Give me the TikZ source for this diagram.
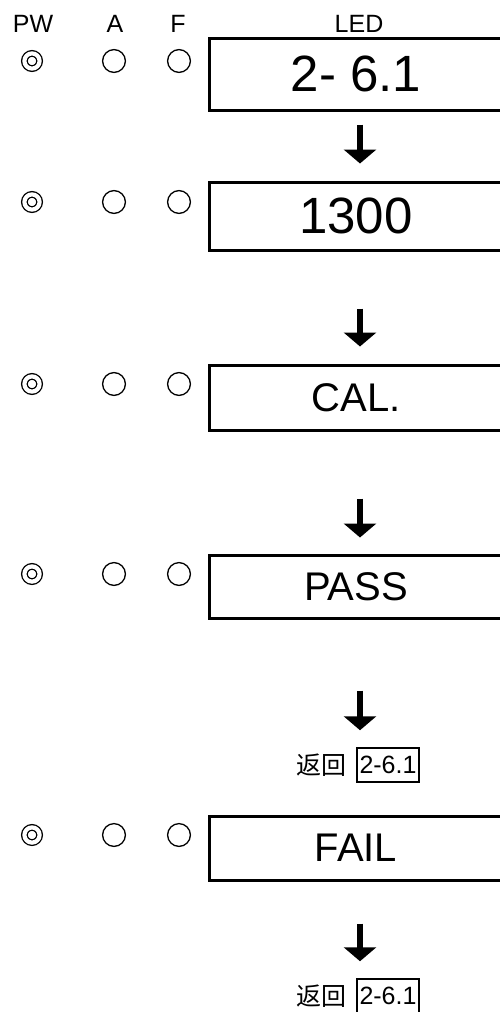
\documentclass[tikz,border=0pt]{standalone}
\usepackage{fontspec}
\setmainfont{Liberation Sans}
\newfontfamily\cjk{Noto Sans CJK SC}
\usetikzlibrary{arrows.meta,positioning}

\begin{document}
\begin{tikzpicture}[
    x=1pt, y=-1pt,
    header/.style={font=\fontsize{25}{30}\selectfont, inner sep=0pt},
    ledbox/.style={rectangle, draw, line width=3pt, minimum width=294pt, inner sep=0pt},
    bigtext/.style={font=\fontsize{51}{60}\selectfont},
    smalltext/.style={font=\fontsize{40}{47}\selectfont},
    lamp/.style={circle, draw, line width=1.3pt, minimum size=22.8pt, inner sep=0pt},
    pwlamp/.style={circle, draw, line width=1.3pt, double, double distance=4.2pt, minimum size=15.2pt, inner sep=0pt},
    flow/.style={line width=6pt, -{Triangle[width=32pt,length=14pt]}},
    backtext/.style={font=\cjk\fontsize{25}{30}\selectfont, inner sep=0pt},
    backbox/.style={draw, line width=1.8pt, font=\fontsize{25}{30}\selectfont, inner xsep=2.5pt, inner ysep=8pt}
  ]
  \useasboundingbox (0,0) rectangle (500,1012);
  \clip (0,0) rectangle (500,1012);
  \node[header] (pwhead) at (33,23.5) {PW};
  \node[header] (ahead) at (115,23.5) {A};
  \node[header] (fhead) at (178,23.5) {F};
  \node[header] (ledhead) at (359,23.5) {LED};
  \node[pwlamp] (pw1) at (32,61) {};
  \node[lamp] (a1) at (114,61) {};
  \node[lamp] (f1) at (179,61) {};
  \node[ledbox, bigtext, minimum height=72pt] (led1) at (356,74) {2- 6.1};
  \node[pwlamp] (pw2) at (32,202) {};
  \node[lamp] (a2) at (114,202) {};
  \node[lamp] (f2) at (179,202) {};
  \node[ledbox, bigtext, minimum height=68pt] (led2) at (356,216) {1300};
  \node[pwlamp] (pw3) at (32,384) {};
  \node[lamp] (a3) at (114,384) {};
  \node[lamp] (f3) at (179,384) {};
  \node[ledbox, smalltext, minimum height=65pt] (led3) at (356,397.5) {CAL.};
  \node[pwlamp] (pw4) at (32,574) {};
  \node[lamp] (a4) at (114,574) {};
  \node[lamp] (f4) at (179,574) {};
  \node[ledbox, smalltext, minimum height=63pt] (led4) at (356,586.5) {PASS};
  \node[backbox] (back1) at (388,765) {2-6.1};
  \node[backtext, left=9pt of back1] (ret1) {返回};
  \node[pwlamp] (pw5) at (32,835) {};
  \node[lamp] (a5) at (114,835) {};
  \node[lamp] (f5) at (179,835) {};
  \node[ledbox, smalltext, minimum height=64pt] (led5) at (356,848) {FAIL};
  \node[backbox] (back2) at (388,996) {2-6.1};
  \node[backtext, left=9pt of back2] (ret2) {返回};
  \draw[flow] ([xshift=4pt,yshift=-13pt]led1.south) -- ([xshift=4pt,yshift=17pt]led2.north);
  \draw[flow] ([xshift=4pt,yshift=-57pt]led2.south) -- ([xshift=4pt,yshift=17pt]led3.north);
  \draw[flow] ([xshift=4pt,yshift=-67pt]led3.south) -- ([xshift=4pt,yshift=16pt]led4.north);
  \draw[flow] ([xshift=4pt,yshift=-71pt]led4.south) -- ([xshift=-28pt,yshift=17pt]back1.north);
  \draw[flow] ([xshift=4pt,yshift=-42pt]led5.south) -- ([xshift=-28pt,yshift=17pt]back2.north);
\end{tikzpicture}
\end{document}
